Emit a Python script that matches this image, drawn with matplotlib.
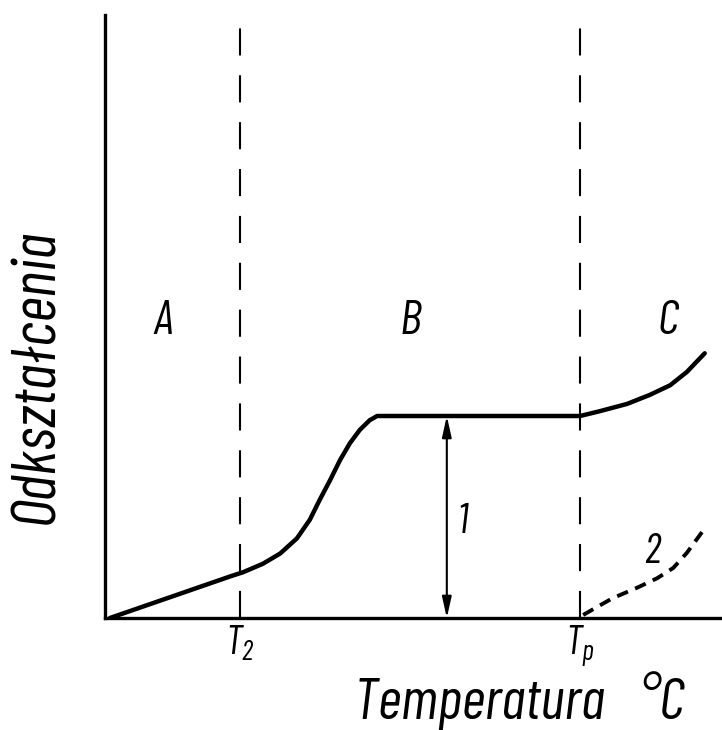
import numpy as np
import matplotlib
matplotlib.use("Agg")
import matplotlib.pyplot as plt

# curve 1 (solid) and curve 2 (dashed), arbitrary units
curve1_x = [0.08, 0.73, 1.38, 2.03, 2.24, 2.56, 2.84, 3.11, 3.32, 3.48, 3.65, 3.81,
            3.97, 4.13, 4.29, 4.41, 7.70, 8.02, 8.46, 8.83, 9.16, 9.43, 9.72]
curve1_y = [0.00, 0.23, 0.46, 0.69, 0.76, 0.90, 1.07, 1.32, 1.63, 1.96, 2.29, 2.62,
            2.90, 3.12, 3.28, 3.35, 3.35, 3.43, 3.55, 3.70, 3.86, 4.08, 4.39]
curve2_x = [7.75, 7.97, 8.23, 8.62, 8.95, 9.21, 9.43, 9.68]
curve2_y = [0.05, 0.18, 0.33, 0.50, 0.66, 0.83, 1.08, 1.43]

t2 = 2.19
tp = 7.70
arrow_x = 5.54
arrow_top = 3.35

region_labels = ["A", "B", "C"]
region_x = [0.94, 4.94, 9.12]
region_y = 4.91

fam = ["Barlow Condensed", "DejaVu Sans"]
plt.rcParams["font.family"] = fam
plt.rcParams["mathtext.fontset"] = "custom"
plt.rcParams["mathtext.it"] = "Barlow Condensed:italic"
plt.rcParams["mathtext.rm"] = "Barlow Condensed:italic"

fig = plt.figure(figsize=(7.22, 7.30), dpi=100)
ax = fig.add_axes([105 / 722, 112 / 730, 617 / 722, 603 / 730])
ax.set_xlim(0, 10)
ax.set_ylim(0, 10)

for s in ["top", "right"]:
    ax.spines[s].set_visible(False)
ax.spines["left"].set_linewidth(2.4)
ax.spines["bottom"].set_linewidth(2.4)

ax.plot(curve1_x, curve1_y, color="black", lw=3.2, solid_capstyle="round", solid_joinstyle="round")
ax.plot(curve2_x, curve2_y, color="black", lw=2.8, dashes=(3, 2))

for xv in [t2, tp]:
    ax.plot([xv, xv], [0, 10], color="black", lw=1.5, dashes=(13, 9.5))

ax.annotate("", xy=(arrow_x, 0), xytext=(arrow_x, arrow_top),
            arrowprops=dict(arrowstyle="<|-|>,head_length=0.9,head_width=0.2",
                            color="black", lw=1.5, shrinkA=0, shrinkB=0,
                            mutation_scale=14))

for lab, xv in zip(region_labels, region_x):
    ax.text(xv, region_y, lab, fontsize=35, style="italic", ha="center", va="center")

ax.text(5.79, 1.59, "1", fontsize=30, style="italic", ha="center", va="center")
ax.text(8.87, 1.08, "2", fontsize=30, style="italic", ha="center", va="center")

ax.set_xticks([t2, tp])
ax.set_xticklabels(["$T_2$", "$T_p$"], fontsize=29)
ax.set_yticks([])
ax.tick_params(axis="x", length=0, pad=4)

ax.set_xlabel("Temperatura   °C", fontsize=42, style="italic")
ax.xaxis.set_label_coords(0.672, -0.167)
ax.xaxis.label.set_verticalalignment("baseline")
ax.set_ylabel("Odkształcenia", fontsize=45, style="italic")
ax.yaxis.set_label_coords(-0.109, 0.40)
ax.yaxis.label.set_verticalalignment("center")

fig.savefig("out.png", dpi=100)
